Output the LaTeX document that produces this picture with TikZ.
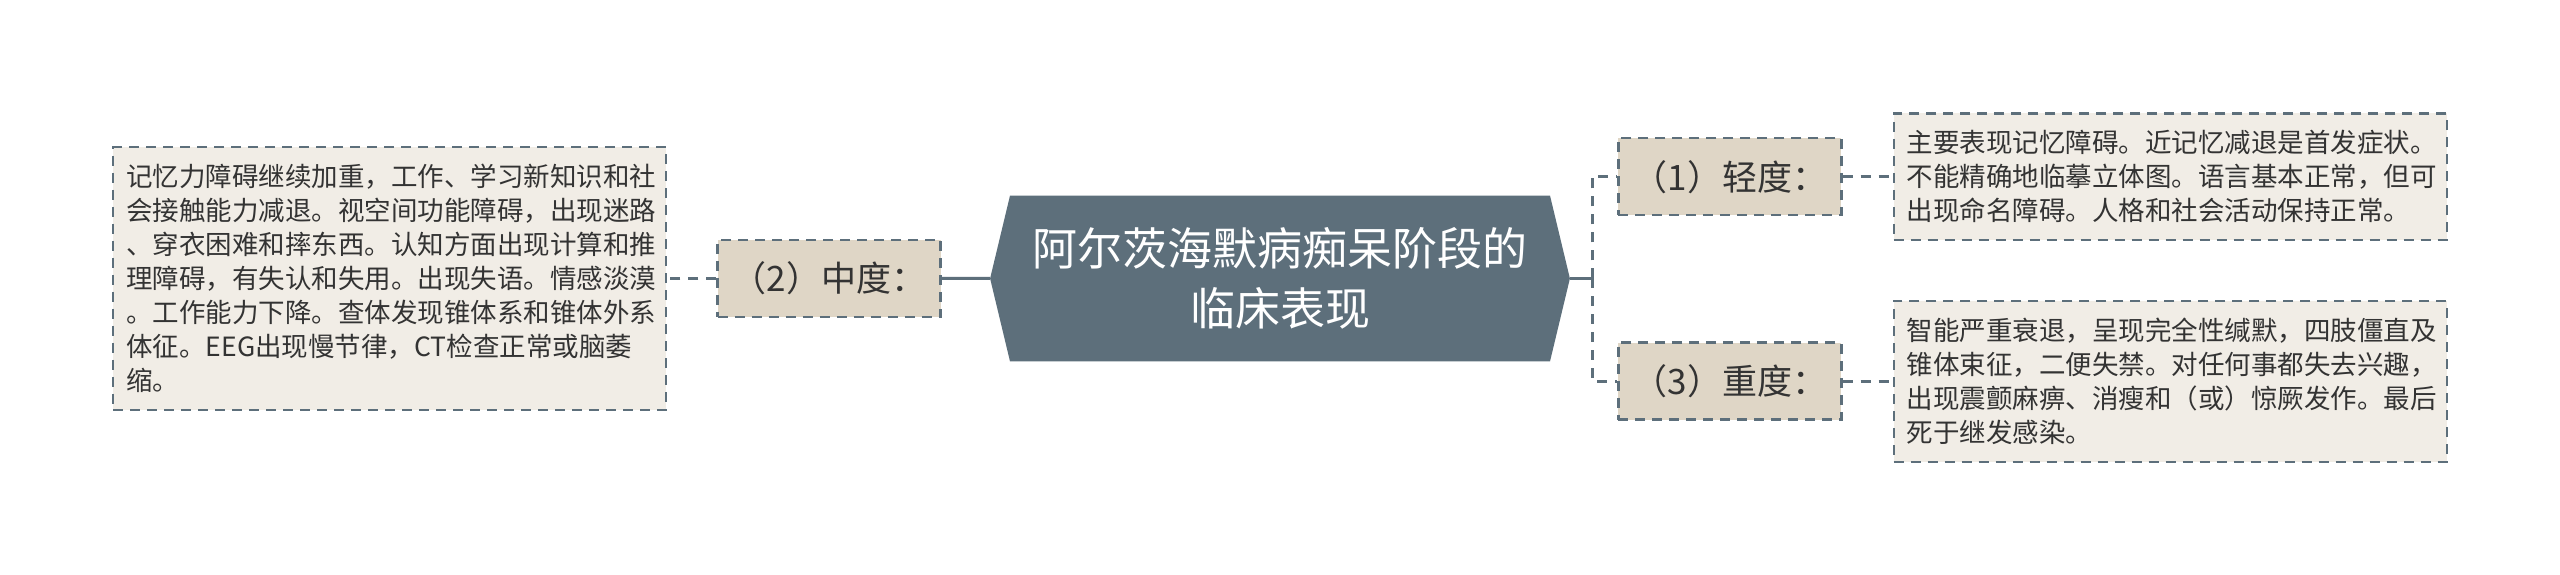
\documentclass[tikz,border=0pt]{standalone}
\usepackage{fontspec}
\newfontfamily\cjk{Noto Sans CJK SC}
\usepackage{tikz}
\usetikzlibrary{positioning, shapes.symbols}
\definecolor{slate}{HTML}{5D6F7B}
\definecolor{sand}{HTML}{DFD6C6}
\definecolor{paper}{HTML}{F1EDE6}
\definecolor{ink}{HTML}{333333}

\begin{document}
\begin{tikzpicture}[
			x=1pt, y=1pt,
			root/.style={
				signal, signal to=west and east, signal pointer angle=153,
				fill=slate, text=white, align=center,
				inner xsep=22.5pt, inner ysep=32pt,
				font=\cjk\fontsize{45}{60}\selectfont
			},
			stage/.style={
				draw=slate, dash pattern=on 10pt off 7pt, line width=2.5pt,
				fill=sand, text=ink, align=center,
				minimum width=223pt, minimum height=77pt,
				font=\cjk\fontsize{35}{40}\selectfont
			},
			desc/.style={
				draw=slate, dash pattern=on 10pt off 7pt, line width=2.2pt,
				fill=paper, text=ink, align=left, text width=527pt,
				inner xsep=13pt, inner ysep=17pt,
				font=\cjk\fontsize{26.5}{34}\selectfont
			},
			trunk/.style={slate, line width=3pt},
			twig/.style={slate, line width=3pt, dash pattern=on 10pt off 8pt}
			]
			\useasboundingbox[fill=white] (0,0) rectangle (2560,575);
			
			% Centre
			\node[root] (root) at (1280,296.5) {阿尔茨海默病痴呆阶段的\\临床表现};
			
			% Left branch
			\node[stage, left=48pt of root] (mid) {（2）中度：};
			\node[desc, left=49pt of mid] (dmid) {记忆力障碍继续加重，工作、学习新知识和社\\会接触能力减退。视空间功能障碍，出现迷路\\、穿衣困难和摔东西。认知方面出现计算和推\\理障碍，有失认和失用。出现失语。情感淡漠\\。工作能力下降。查体发现锥体系和锥体外系\\体征。EEG出现慢节律，CT检查正常或脑萎\\缩。};
			
			% Right branch
			\coordinate[right=22pt of root.east] (fork);
			\node[stage, above right=62pt and 47pt of root.east] (mild) {（1）轻度：};
			\node[stage, below right=63pt and 47pt of root.east] (severe) {（3）重度：};
			\node[desc, right=50pt of mild] (dmild) {主要表现记忆障碍。近记忆减退是首发症状。\\不能精确地临摹立体图。语言基本正常，但可\\出现命名障碍。人格和社会活动保持正常。};
			\node[desc, right=50pt of severe] (dsevere) {智能严重衰退，呈现完全性缄默，四肢僵直及\\锥体束征，二便失禁。对任何事都失去兴趣，\\出现震颤麻痹、消瘦和（或）惊厥发作。最后\\死于继发感染。};
			
			% Lines
			\draw[trunk] (root) -- (mid);
			\draw[twig] (mid) -- (dmid);
			\draw[trunk] (root.east) -- (fork);
			\draw[twig] (fork) |- (mild.west);
			\draw[twig] (fork) |- (severe.west);
			\draw[twig] (mild) -- (dmild);
			\draw[twig] (severe) -- (dsevere);
			
		\end{tikzpicture}
\end{document}
